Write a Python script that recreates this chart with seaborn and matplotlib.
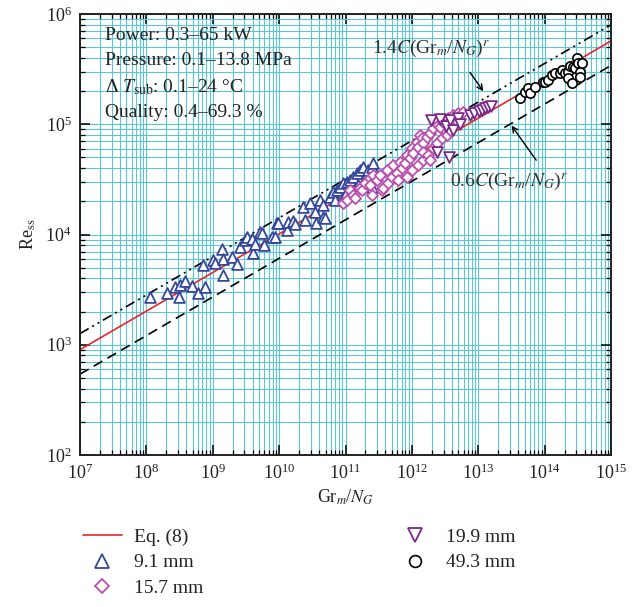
import numpy as np
import pandas as pd
import matplotlib
matplotlib.use("Agg")
import matplotlib.pyplot as plt
import seaborn as sns
from matplotlib.lines import Line2D
from matplotlib.ticker import LogLocator, LogFormatterSciNotation, NullFormatter

# ---------------- data ----------------
gr_91 = [1.13e8, 2.02e8, 3.10e8, 2.70e8, 3.21e8, 3.82e8, 4.82e8, 6.06e8, 7.64e8, 7.06e8,
         1.02e9, 1.08e9, 1.36e9, 1.44e9, 1.41e9, 1.93e9, 2.30e9, 2.57e9, 3.06e9, 3.25e9,
         3.86e9, 4.08e9, 4.33e9, 5.15e9, 5.46e9, 5.92e9, 7.73e9, 8.67e9, 9.19e9, 9.72e9,
         1.30e10, 1.37e10, 1.60e10, 1.73e10, 2.31e10, 2.45e10, 2.92e10, 3.47e10, 3.59e10, 4.13e10,
         4.63e10, 4.63e10, 4.91e10, 5.84e10, 6.55e10, 6.95e10, 7.36e10, 8.26e10, 9.27e10, 9.82e10,
         1.04e11, 1.17e11, 1.31e11, 1.48e11, 1.54e11, 1.65e11, 1.85e11, 1.97e11, 2.21e11, 2.48e11,
         2.48e11, 2.62e11]
re_91 = [2.73e3, 2.97e3, 2.73e3, 3.36e3, 3.48e3, 3.81e3, 3.41e3, 2.97e3, 3.36e3, 5.29e3,
         5.87e3, 5.48e3, 7.34e3, 5.96e3, 4.29e3, 6.29e3, 5.37e3, 7.75e3, 8.91e3, 9.55e3,
         9.04e3, 6.84e3, 8.20e3, 1.06e4, 1.04e4, 8.03e3, 9.55e3, 9.55e3, 1.26e4, 1.28e4,
         1.10e4, 1.31e4, 1.33e4, 1.25e4, 1.79e4, 1.35e4, 1.92e4, 1.61e4, 1.28e4, 2.06e4,
         1.85e4, 1.45e4, 1.40e4, 2.20e4, 2.44e4, 2.06e4, 2.53e4, 2.71e4, 2.91e4, 2.28e4,
         3.01e4, 3.12e4, 3.34e4, 3.59e4, 2.81e4, 3.85e4, 4.12e4, 3.25e4, 3.85e4, 4.12e4,
         2.71e4, 4.43e4]

gr_157 = [9.27e10, 1.04e11, 1.17e11, 1.31e11, 1.39e11, 1.65e11, 1.75e11, 1.97e11, 2.34e11, 2.34e11,
          2.48e11, 2.62e11, 2.95e11, 3.31e11, 3.51e11, 3.71e11, 4.18e11, 4.42e11, 4.96e11, 5.25e11,
          5.90e11, 6.24e11, 6.62e11, 7.03e11, 7.87e11, 8.36e11, 8.36e11, 9.37e11, 9.94e11, 9.94e11,
          1.05e12, 1.18e12, 1.25e12, 1.25e12, 1.33e12, 1.41e12, 1.49e12, 1.49e12, 1.49e12, 1.67e12,
          1.77e12, 1.87e12, 1.87e12, 2.10e12, 2.10e12, 2.37e12, 2.50e12, 2.65e12, 2.81e12, 2.98e12,
          3.35e12, 3.54e12, 3.54e12, 3.75e12, 4.21e12, 5.00e12, 5.96e12]
re_157 = [1.92e4, 2.06e4, 2.53e4, 2.28e4, 2.13e4, 2.62e4, 2.53e4, 2.91e4, 3.24e4, 2.81e4,
          2.28e4, 3.47e4, 3.12e4, 3.47e4, 2.53e4, 2.62e4, 3.85e4, 2.91e4, 3.34e4, 4.27e4,
          3.59e4, 3.12e4, 4.57e4, 3.98e4, 4.43e4, 5.26e4, 3.34e4, 4.91e4, 6.05e4, 3.85e4,
          5.45e4, 6.95e4, 6.25e4, 4.27e4, 7.98e4, 7.46e4, 6.71e4, 4.74e4, 5.64e4, 7.71e4,
          5.26e4, 8.28e4, 4.74e4, 9.18e4, 6.05e4, 6.71e4, 9.84e4, 9.50e4, 7.46e4, 1.05e5,
          7.98e4, 1.13e5, 1.02e5, 8.87e4, 1.21e5, 1.26e5, 1.30e5]

gr_199 = [1.94e12, 2.39e12, 2.65e12, 3.27e12, 3.62e12, 3.75e12, 4.17e12, 4.95e12, 5.31e12, 7.51e12,
          8.63e12, 1.03e13, 1.14e13, 1.26e13, 1.40e13, 1.56e13]
re_199 = [1.09e5, 5.60e4, 1.12e5, 9.64e4, 5.05e4, 1.09e5, 8.87e4, 1.14e5, 1.00e5, 1.21e5,
          1.27e5, 1.32e5, 1.35e5, 1.40e5, 1.43e5, 1.47e5]

gr_493 = [4.26e13, 5.06e13, 5.68e13, 6.03e13, 7.16e13, 9.55e13, 1.01e14, 1.14e14, 1.28e14, 1.43e14,
          1.71e14, 1.81e14, 2.03e14, 2.28e14, 2.28e14, 2.41e14, 2.56e14, 2.65e14, 2.87e14, 3.04e14,
          3.21e14, 3.41e14, 3.41e14, 3.61e14]
re_493 = [1.74e5, 1.97e5, 2.12e5, 1.91e5, 2.19e5, 2.43e5, 2.43e5, 2.52e5, 2.80e5, 2.90e5,
          2.90e5, 3.10e5, 2.94e5, 3.00e5, 2.61e5, 3.37e5, 2.35e5, 3.33e5, 3.21e5, 3.96e5,
          3.57e5, 3.00e5, 2.70e5, 3.61e5]

# correlation Eq. (8): Re = C (Gr_m/N_G)^r, with +40% / -40% bands
C_eq = 3.2
r_eq = 0.35
band_hi = 1.4
band_lo = 0.6
gr_range = [1e7, 1e15]

series_labels = ["Eq. (8)", "9.1 mm", "15.7 mm", "19.9 mm", "49.3 mm"]
info_lines = ["Power: 0.3–65 kW", "Pressure: 0.1–13.8 MPa",
              r"Δ $\mathit{T}_{\mathrm{sub}}$: 0.1–24 °C", "Quality: 0.4–69.3 %"]

# ---------------- style ----------------
sns.set_style("ticks")
plt.rcParams["font.family"] = ["Liberation Serif", "DejaVu Serif"]
plt.rcParams["mathtext.fontset"] = "stix"
plt.rcParams["mathtext.default"] = "regular"

c_red = "#e8262a"
c_blue = "#34479c"
c_mag = "#bb4fae"
c_pur = "#7a2a86"
c_grid = "#5cc6d4"
FS = 13
FS_INFO = 14

fig = plt.figure(figsize=(6.35, 6.07), dpi=100)
ax = fig.add_axes([80 / 635, 1 - 455 / 607, 531 / 635, 441 / 607])
ax.set_xscale("log")
ax.set_yscale("log")

# lines
gx = np.array(gr_range)
re_line = C_eq * gx ** r_eq
sns.lineplot(x=gx, y=re_line, ax=ax, color=c_red, lw=1.2, zorder=2)
sns.lineplot(x=gx, y=band_hi * re_line, ax=ax, color="black", lw=1.2, zorder=2)
ax.lines[-1].set_dashes([6, 2.5, 1.2, 2.5, 1.2, 2.5])
sns.lineplot(x=gx, y=band_lo * re_line, ax=ax, color="black", lw=1.2, zorder=2)
ax.lines[-1].set_dashes([6, 3.5])

# scatter series
sns.scatterplot(x=gr_91, y=re_91, ax=ax, marker="^", s=60, facecolor="white",
                edgecolor=c_blue, linewidth=1.3, zorder=3)
sns.scatterplot(x=gr_157, y=re_157, ax=ax, marker="D", s=32, facecolor="white",
                edgecolor=c_mag, linewidth=1.3, zorder=3)
sns.scatterplot(x=gr_199, y=re_199, ax=ax, marker="v", s=60, facecolor="white",
                edgecolor=c_pur, linewidth=1.3, zorder=3)
sns.scatterplot(x=gr_493, y=re_493, ax=ax, marker="o", s=45, facecolor="white",
                edgecolor="black", linewidth=1.2, zorder=3)

ax.set_xlim(1e7, 1e15)
ax.set_ylim(1e2, 1e6)

ax.xaxis.set_major_locator(LogLocator(base=10, numticks=20))
ax.yaxis.set_major_locator(LogLocator(base=10, numticks=20))
ax.xaxis.set_minor_locator(LogLocator(base=10, subs=np.arange(2, 10), numticks=100))
ax.yaxis.set_minor_locator(LogLocator(base=10, subs=np.arange(2, 10), numticks=100))
ax.xaxis.set_major_formatter(LogFormatterSciNotation())
ax.yaxis.set_major_formatter(LogFormatterSciNotation())
ax.xaxis.set_minor_formatter(NullFormatter())
ax.yaxis.set_minor_formatter(NullFormatter())

ax.grid(True, which="both", color=c_grid, lw=0.8, zorder=0)
ax.set_axisbelow(True)
ax.tick_params(which="both", direction="in", top=True, right=True, colors="black",
               labelsize=FS, labelcolor="#222222")
ax.tick_params(which="major", length=7, width=1.1, pad=6)
ax.tick_params(which="minor", length=3.5, width=0.9)
for sp in ax.spines.values():
    sp.set_linewidth(1.4)
    sp.set_color("#222222")

ax.set_xlabel(r"Gr$_{\mathit{m}}$/$\mathit{N}_{\mathit{G}}$", fontsize=FS, color="#222222", labelpad=3)
ax.set_ylabel(r"Re$_{\mathrm{ss}}$", fontsize=FS, color="#222222", labelpad=5)

# info text
for i, t in enumerate(info_lines):
    ax.text(0.047, 0.952 - i * 0.0585, t, transform=ax.transAxes, fontsize=FS_INFO,
            va="center", ha="left", color="#222222")

# band annotations
ax.text(2.5e11, 4.9e5, r"1.4$\mathit{C}$(Gr$_{\mathit{m}}$/$\mathit{N}_{\mathit{G}}$)$^{\mathit{r}}$",
        fontsize=FS_INFO, va="center", ha="left", color="#333333")
ax.annotate("", xy=(1.26e13, 1.9e5), xytext=(7.1e12, 3.1e5),
            arrowprops=dict(arrowstyle="->", lw=1.0, color="black"))
ax.text(3.7e12, 3.0e4, r"0.6$\mathit{C}$(Gr$_{\mathit{m}}$/$\mathit{N}_{\mathit{G}}$)$^{\mathit{r}}$",
        fontsize=FS_INFO, va="center", ha="left", color="#333333")
ax.annotate("", xy=(3.0e13, 1.02e5), xytext=(7.9e13, 4.5e4),
            arrowprops=dict(arrowstyle="->", lw=1.0, color="black"))

# legend
handles = [
    Line2D([], [], color=c_red, lw=1.2),
    Line2D([], [], marker="^", ls="none", ms=10, mfc="white", mec=c_blue, mew=1.3),
    Line2D([], [], marker="D", ls="none", ms=7, mfc="white", mec=c_mag, mew=1.3),
    Line2D([], [], marker="v", ls="none", ms=10, mfc="white", mec=c_pur, mew=1.3),
    Line2D([], [], marker="o", ls="none", ms=8.5, mfc="white", mec="black", mew=1.2),
]
fig.legend(handles, series_labels, loc="upper left", bbox_to_anchor=(83 / 635, 1 - 528 / 607),
           ncol=2, frameon=False, fontsize=FS_INFO, handlelength=2.0, handletextpad=0.6,
           columnspacing=9.9, labelspacing=0.42, borderpad=0, borderaxespad=0,
           labelcolor="#222222")

fig.savefig("out.png", dpi=100)
